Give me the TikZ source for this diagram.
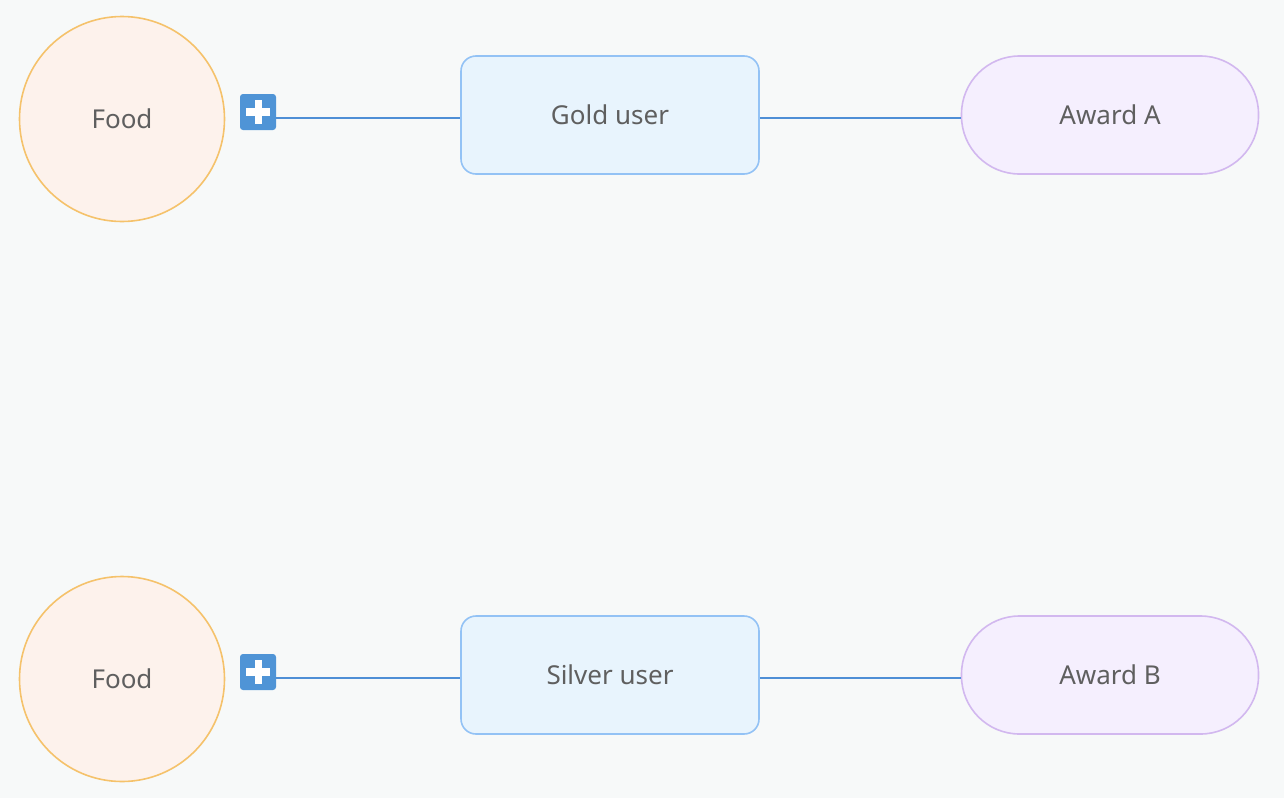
\documentclass[tikz,border=0pt]{standalone}
\usepackage{fontspec}
\setmainfont{Noto Sans}
\definecolor{bg}{HTML}{F7F9F9}
\definecolor{txt}{HTML}{5F5F5F}
\definecolor{foodfill}{HTML}{FDF2EC}
\definecolor{fooddraw}{HTML}{F5C26B}
\definecolor{userfill}{HTML}{E8F4FD}
\definecolor{userdraw}{HTML}{93C2F5}
\definecolor{awardfill}{HTML}{F5EFFE}
\definecolor{awarddraw}{HTML}{D2B8EF}
\definecolor{link}{HTML}{4F8FD6}
\definecolor{plusfill}{HTML}{4F94D6}
\begin{document}
\begin{tikzpicture}[x=1pt,y=-1pt,
  lbl/.style={text=txt,font=\fontsize{26}{31}\selectfont},
  food/.style={lbl,circle,draw=fooddraw,fill=foodfill,line width=1.6pt,minimum size=205pt,inner sep=0pt},
  user/.style={lbl,rectangle,rounded corners=15pt,draw=userdraw,fill=userfill,line width=1.6pt,minimum width=298pt,minimum height=118pt,inner sep=0pt},
  award/.style={lbl,rectangle,rounded corners=58pt,draw=awarddraw,fill=awardfill,line width=1.6pt,minimum width=297pt,minimum height=118pt,inner sep=0pt},
  plusbox/.style={rectangle,rounded corners=3pt,fill=plusfill,minimum size=36pt,inner sep=0pt},
  conn/.style={draw=link,line width=1.8pt}]
\fill[bg] (0,0) rectangle (1284,798);
\useasboundingbox (0,0) rectangle (1284,798);

\foreach \r/\dy/\u/\a in {1/0/Gold user/Award A,2/560/Silver user/Award B}{
  \node[food] (food\r) at (122,119+\dy) {Food};
  \node[plusbox] (plus\r) at (258,112+\dy) {};
  \fill[white] (255,100+\dy) rectangle (262,124+\dy);
  \fill[white] (246,108+\dy) rectangle (270,116+\dy);
  \node[user] (user\r) at (610,115+\dy) {\u};
  \node[award] (award\r) at (1110,115+\dy) {\a};
  \coordinate (lane\r) at (0,118+\dy);
  \draw[conn] (plus\r.east |- lane\r) -- (user\r.west |- lane\r);
  \draw[conn] (user\r.east |- lane\r) -- (award\r.west |- lane\r);
}
\end{tikzpicture}
\end{document}
